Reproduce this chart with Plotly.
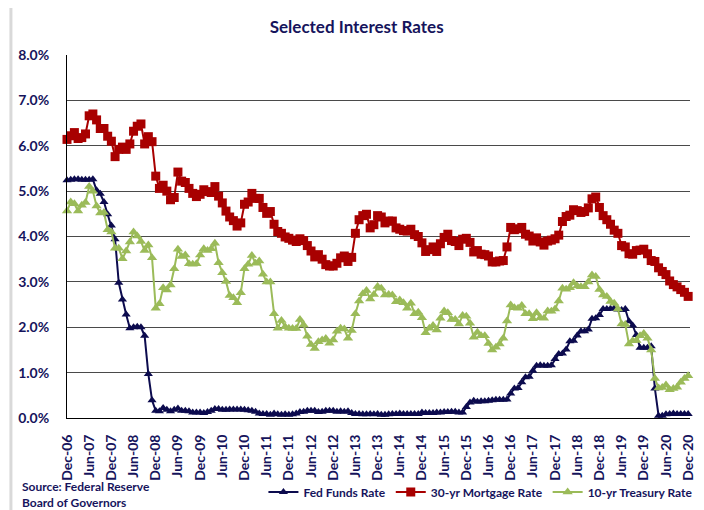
import pandas as pd
import plotly.graph_objects as go

# monthly, Dec-06 .. Dec-20
months = pd.date_range('2006-12-01', '2020-12-01', freq='MS').strftime('%b-%y').tolist()

fed_funds = [
    5.24,
    5.25, 5.26, 5.26, 5.25, 5.25, 5.25, 5.26, 5.02, 4.94, 4.76, 4.49, 4.24,
    3.94, 2.98, 2.61, 2.28, 1.98, 2.00, 2.01, 2.00, 1.81, 0.97, 0.39, 0.16,
    0.15, 0.22, 0.18, 0.15, 0.18, 0.21, 0.16, 0.16, 0.15, 0.12, 0.12, 0.12,
    0.11, 0.13, 0.16, 0.20, 0.20, 0.18, 0.18, 0.19, 0.19, 0.19, 0.19, 0.18,
    0.17, 0.16, 0.14, 0.10, 0.09, 0.09, 0.07, 0.10, 0.08, 0.07, 0.08, 0.07,
    0.08, 0.10, 0.13, 0.14, 0.16, 0.16, 0.16, 0.13, 0.14, 0.16, 0.16, 0.16,
    0.14, 0.15, 0.14, 0.15, 0.11, 0.09, 0.09, 0.08, 0.08, 0.09, 0.08, 0.09,
    0.07, 0.07, 0.08, 0.09, 0.09, 0.10, 0.09, 0.09, 0.09, 0.09, 0.09, 0.12,
    0.11, 0.11, 0.11, 0.12, 0.12, 0.13, 0.13, 0.14, 0.14, 0.12, 0.12, 0.24,
    0.34, 0.38, 0.36, 0.37, 0.37, 0.38, 0.39, 0.40, 0.40, 0.40, 0.41, 0.54,
    0.65, 0.66, 0.79, 0.90, 0.91, 1.04, 1.15, 1.16, 1.15, 1.15, 1.16, 1.30,
    1.41, 1.42, 1.51, 1.69, 1.70, 1.82, 1.91, 1.91, 1.95, 2.19, 2.20, 2.27,
    2.40, 2.40, 2.41, 2.42, 2.39, 2.38, 2.40, 2.13, 2.04, 1.83, 1.55, 1.55,
    1.55, 1.58, 0.65, 0.05, 0.05, 0.08, 0.09, 0.10, 0.09, 0.09, 0.09, 0.09,
]

mortgage_30yr = [
    6.14,
    6.22, 6.29, 6.16, 6.18, 6.26, 6.66, 6.70, 6.57, 6.38, 6.38, 6.21, 6.10,
    5.76, 5.92, 5.97, 5.92, 6.04, 6.32, 6.43, 6.48, 6.04, 6.20, 6.09, 5.33,
    5.06, 5.13, 5.00, 4.81, 4.86, 5.42, 5.22, 5.19, 5.06, 4.95, 4.88, 4.93,
    5.03, 4.99, 4.97, 5.10, 4.89, 4.74, 4.56, 4.43, 4.35, 4.23, 4.30, 4.71,
    4.76, 4.95, 4.84, 4.84, 4.64, 4.51, 4.55, 4.27, 4.11, 4.07, 3.99, 3.96,
    3.92, 3.89, 3.95, 3.91, 3.80, 3.68, 3.55, 3.60, 3.50, 3.38, 3.35, 3.35,
    3.41, 3.53, 3.57, 3.45, 3.54, 4.07, 4.37, 4.46, 4.49, 4.19, 4.26, 4.46,
    4.43, 4.30, 4.34, 4.34, 4.19, 4.16, 4.13, 4.12, 4.16, 4.04, 4.00, 3.86,
    3.67, 3.71, 3.77, 3.67, 3.84, 3.98, 4.05, 3.91, 3.89, 3.80, 3.94, 3.96,
    3.87, 3.66, 3.69, 3.61, 3.60, 3.57, 3.44, 3.44, 3.46, 3.47, 3.77, 4.20,
    4.15, 4.17, 4.20, 4.05, 4.01, 3.90, 3.97, 3.88, 3.81, 3.90, 3.92, 3.95,
    4.03, 4.33, 4.44, 4.47, 4.59, 4.57, 4.53, 4.55, 4.63, 4.83, 4.87, 4.64,
    4.46, 4.37, 4.27, 4.14, 4.07, 3.80, 3.77, 3.62, 3.61, 3.69, 3.70, 3.72,
    3.62, 3.47, 3.45, 3.31, 3.23, 3.16, 3.02, 2.94, 2.89, 2.83, 2.77, 2.68,
]

treasury_10yr = [
    4.56,
    4.76, 4.72, 4.56, 4.69, 4.75, 5.10, 5.00, 4.67, 4.52, 4.53, 4.15, 4.10,
    3.74, 3.74, 3.51, 3.68, 3.88, 4.10, 4.01, 3.89, 3.69, 3.81, 3.53, 2.42,
    2.52, 2.87, 2.82, 2.93, 3.29, 3.72, 3.56, 3.59, 3.40, 3.39, 3.40, 3.59,
    3.73, 3.69, 3.73, 3.85, 3.42, 3.20, 3.01, 2.70, 2.65, 2.54, 2.76, 3.29,
    3.39, 3.58, 3.41, 3.46, 3.17, 3.00, 3.00, 2.30, 1.98, 2.15, 2.01, 1.98,
    1.97, 1.97, 2.17, 2.05, 1.80, 1.62, 1.53, 1.68, 1.72, 1.75, 1.65, 1.72,
    1.91, 1.98, 1.96, 1.76, 1.93, 2.30, 2.58, 2.74, 2.81, 2.62, 2.72, 2.90,
    2.86, 2.71, 2.72, 2.71, 2.56, 2.60, 2.54, 2.42, 2.53, 2.30, 2.33, 2.21,
    1.88, 1.98, 2.04, 1.94, 2.20, 2.36, 2.32, 2.17, 2.17, 2.07, 2.26, 2.24,
    2.09, 1.78, 1.89, 1.81, 1.81, 1.64, 1.50, 1.56, 1.63, 1.76, 2.14, 2.49,
    2.43, 2.42, 2.48, 2.30, 2.30, 2.19, 2.32, 2.21, 2.20, 2.36, 2.35, 2.40,
    2.58, 2.86, 2.84, 2.87, 2.98, 2.91, 2.89, 2.89, 3.00, 3.15, 3.12, 2.83,
    2.71, 2.68, 2.57, 2.53, 2.40, 2.07, 2.06, 1.63, 1.70, 1.71, 1.81, 1.86,
    1.76, 1.50, 0.87, 0.66, 0.67, 0.73, 0.62, 0.65, 0.68, 0.79, 0.87, 0.93,
]

tick_labels = months[::6]
y_ticks = [0, 1, 2, 3, 4, 5, 6, 7, 8]

navy = '#0C0B4E'
text_color = '#16145C'
red = '#A80000'
green = '#9BBB59'
font_family = 'Lato, Open Sans, sans-serif'

fig = go.Figure()

fig.add_trace(go.Scatter(x=months, y=fed_funds, mode='lines+markers', name='<b>Fed Funds Rate</b>',
                         line=dict(color=navy, width=2),
                         marker=dict(symbol='triangle-up', size=8, color=navy),
                         cliponaxis=False))
fig.add_trace(go.Scatter(x=months, y=mortgage_30yr, mode='lines+markers', name='<b>30-yr Mortgage Rate</b>',
                         line=dict(color=red, width=2),
                         marker=dict(symbol='square', size=9, color=red),
                         cliponaxis=False))
fig.add_trace(go.Scatter(x=months, y=treasury_10yr, mode='lines+markers', name='<b>10-yr Treasury Rate</b>',
                         line=dict(color=green, width=2),
                         marker=dict(symbol='triangle-up', size=9, color=green),
                         cliponaxis=False))

# page body adds an 8px margin, so the figure is sized 696x502
# plot area ends up at about x 67..690, y 55..418 in the window
fig.update_layout(
    width=696,
    height=502,
    margin=dict(l=59, r=14, t=47, b=92),
    paper_bgcolor='white',
    plot_bgcolor='white',
    font=dict(family=font_family, color=text_color, size=13),
    title=dict(text='<b>Selected Interest Rates</b>', x=0.501, xanchor='center', y=0.962, yanchor='middle',
               font=dict(size=17, color=text_color, family=font_family)),
    showlegend=True,
    legend=dict(
        orientation='h',
        xref='container',
        yref='container',
        x=0.992,
        y=0.036,
        xanchor='right',
        yanchor='middle',
        font=dict(size=12, color=text_color, family=font_family),
        itemwidth=30,
        tracegroupgap=0,
        bgcolor='rgba(0,0,0,0)',
    ),
    xaxis=dict(
        type='category',
        range=[0, 168.5],
        automargin=False,
        tickmode='array',
        tickvals=tick_labels,
        ticktext=[f'<b>{t}</b>' for t in tick_labels],
        tickangle=-90,
        ticks='',
        ticklabelstandoff=10,
        tickfont=dict(size=14, color=text_color),
        showgrid=False,
        showline=True,
        linecolor='black',
        linewidth=1,
        zeroline=False,
    ),
    yaxis=dict(
        range=[0, 8],
        automargin=False,
        tickmode='array',
        tickvals=y_ticks,
        ticktext=[f'<b>{v:.1f}%</b>' for v in y_ticks],
        ticks='',
        ticklabelstandoff=14,
        tickfont=dict(size=14, color=text_color),
        showgrid=True,
        gridcolor='#4A4A4A',
        gridwidth=1,
        showline=True,
        linecolor='black',
        linewidth=1,
        zeroline=False,
    ),
    annotations=[
        dict(text='<b>Source: Federal Reserve<br>Board of Governors</b>', xref='paper', yref='paper',
             x=-0.075, y=-0.163, xanchor='left', yanchor='top', align='left', showarrow=False,
             font=dict(size=12, color=text_color, family=font_family)),
    ],
    shapes=[
        # light grey frame round the chart area
        dict(type='rect', xref='paper', yref='paper', x0=-0.09, x1=1.016, y0=-0.26, y1=1.138,
             line=dict(color='#D9D9D9', width=3), fillcolor='rgba(0,0,0,0)', layer='below'),
    ],
)

fig.write_html('out.html')
